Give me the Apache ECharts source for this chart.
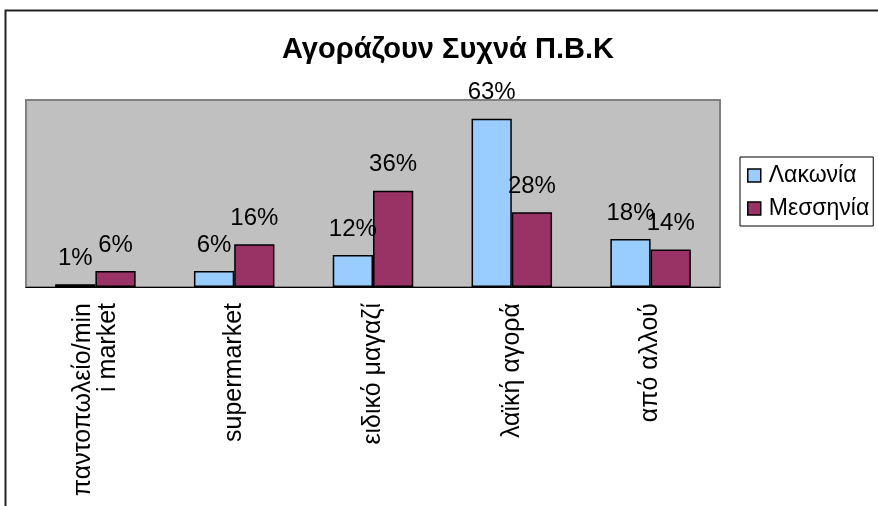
<!DOCTYPE html>
<html>
<head>
<meta charset="utf-8">
<script src="https://cdn.jsdelivr.net/npm/echarts@6/dist/echarts.min.js"></script>
<style>
  html, body { margin: 0; padding: 0; background: #fff; }
  #chart { width: 878px; height: 506px; }
</style>
</head>
<body>
<div id="chart"></div>
<script>
const categories = ['παντοπωλείο/min\ni market', 'supermarket', 'ειδικό μαγαζί', 'λαϊκή αγορά', 'από αλλού'];
const lakonia = [1, 6, 12, 63, 18];
const messinia = [6, 16, 36, 28, 14];
const seriesNames = ['Λακωνία', 'Μεσσηνία'];

const chart = echarts.init(document.getElementById('chart'));
const font = "'Liberation Sans', Arial, sans-serif";

const barLabel = {
  show: true,
  position: 'top',
  distance: 14,
  formatter: '{c}%',
  fontSize: 24,
  color: '#000',
  fontFamily: font,
};

const option = {
  animation: false,
  textStyle: { fontFamily: font },
  title: {
    text: 'Αγοράζουν Συχνά Π.Β.Κ',
    left: 277,
    top: 30,
    textStyle: { fontSize: 29, fontWeight: 'bold', color: '#000', fontFamily: font },
  },
  graphic: [
    {
      type: 'rect',
      shape: { x: 5.5, y: 10.5, width: 1000, height: 1000 },
      style: { fill: 'none', stroke: '#222', lineWidth: 2 },
      silent: true,
    },
  ],
  legend: {
    data: seriesNames,
    orient: 'vertical',
    left: 740,
    top: 157,
    padding: [7, 4, 6, 7],
    itemGap: 10,
    itemWidth: 13,
    itemHeight: 13,
    icon: 'rect',
    borderColor: '#000',
    borderWidth: 1,
    itemStyle: { borderColor: '#000', borderWidth: 1.5 },
    textStyle: { fontSize: 23, color: '#000', fontFamily: font, padding: [0, 0, 0, 3] },
  },
  grid: {
    left: 26,
    right: 158,
    top: 100,
    bottom: 219,
    show: true,
    backgroundColor: '#C0C0C0',
    borderColor: '#808080',
    borderWidth: 2,
  },
  xAxis: {
    type: 'category',
    data: categories,
    axisLine: { lineStyle: { color: '#000', width: 1 } },
    axisTick: { length: 6, lineStyle: { color: '#000' } },
    axisLabel: {
      rotate: 90,
      interval: 0,
      margin: 16,
      fontSize: 25,
      lineHeight: 25,
      color: '#000',
      fontFamily: font,
    },
  },
  yAxis: {
    type: 'value',
    min: 0,
    max: 70,
    show: false,
    splitLine: { show: false },
  },
  series: [
    {
      name: seriesNames[0],
      type: 'bar',
      data: lakonia,
      barGap: '0%',
      barCategoryGap: '42%',
      itemStyle: { color: '#99CCFF', borderColor: '#000', borderWidth: 1.5 },
      label: barLabel,
    },
    {
      name: seriesNames[1],
      type: 'bar',
      data: messinia,
      barGap: '0%',
      barCategoryGap: '42%',
      itemStyle: { color: '#993366', borderColor: '#000', borderWidth: 1.5 },
      label: barLabel,
    },
  ],
};

chart.setOption(option);
</script>
</body>
</html>
